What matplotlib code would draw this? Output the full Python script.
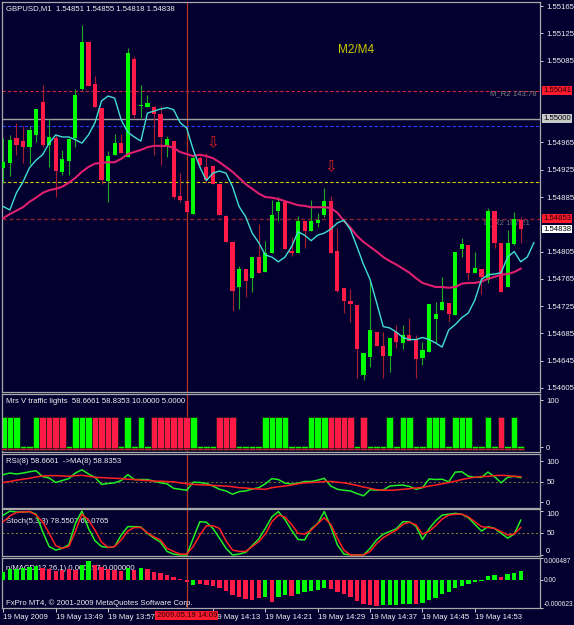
import numpy as np
import matplotlib.pyplot as plt
import matplotlib.transforms as mtransforms

plt.rcParams['font.family'] = ['Liberation Sans', 'DejaVu Sans']

# ---- GBPUSD M1 bars, 13:41 .. 15:00 ----
opens = [1.54928, 1.54935, 1.54972, 1.54967, 1.54958, 1.54976, 1.55024, 1.54961, 1.54972, 1.54922,
         1.54938, 1.54972, 1.55043, 1.55112, 1.55051, 1.55016, 1.54909, 1.54947, 1.54964, 1.54944,
         1.55087, 1.55019, 1.55017, 1.55017, 1.55007, 1.54960, 1.54967, 1.54887, 1.54879, 1.54860,
         1.54942, 1.54929, 1.54931, 1.54904, 1.54857, 1.54819, 1.54753, 1.54780, 1.54766, 1.54797,
         1.54775, 1.54803, 1.54865, 1.54878, 1.54806, 1.54803, 1.54850, 1.54835, 1.54847, 1.54859,
         1.54879, 1.54806, 1.54752, 1.54733, 1.54727, 1.54624, 1.54651, 1.54687, 1.54667, 1.54652,
         1.54687, 1.54671, 1.54683, 1.54677, 1.54649, 1.54658, 1.54706, 1.54720, 1.54730, 1.54712,
         1.54809, 1.54815, 1.54774, 1.54780, 1.54764, 1.54865, 1.54818, 1.54753, 1.54816, 1.54851]
highs = [1.54972, 1.54976, 1.54994, 1.54989, 1.54989, 1.55014, 1.55049, 1.55000, 1.54976, 1.54954,
         1.54972, 1.55043, 1.55137, 1.55112, 1.55062, 1.55016, 1.54953, 1.54978, 1.54978, 1.55103,
         1.55092, 1.55049, 1.55035, 1.55019, 1.55019, 1.54975, 1.54967, 1.54920, 1.54879, 1.54947,
         1.54945, 1.54950, 1.54931, 1.54904, 1.54859, 1.54819, 1.54784, 1.54780, 1.54797, 1.54846,
         1.54821, 1.54881, 1.54885, 1.54878, 1.54827, 1.54857, 1.54850, 1.54881, 1.54862, 1.54898,
         1.54887, 1.54840, 1.54752, 1.54750, 1.54727, 1.54657, 1.54762, 1.54687, 1.54687, 1.54679,
         1.54698, 1.54698, 1.54708, 1.54683, 1.54673, 1.54728, 1.54731, 1.54768, 1.54730, 1.54805,
         1.54825, 1.54815, 1.54805, 1.54780, 1.54869, 1.54865, 1.54818, 1.54837, 1.54863, 1.54855]
lows = [1.54906, 1.54916, 1.54947, 1.54935, 1.54934, 1.54966, 1.54958, 1.54929, 1.54885, 1.54917,
        1.54917, 1.54958, 1.55042, 1.55048, 1.55017, 1.54904, 1.54878, 1.54947, 1.54950, 1.54944,
        1.55001, 1.55001, 1.55017, 1.54947, 1.54932, 1.54944, 1.54882, 1.54878, 1.54863, 1.54860,
        1.54931, 1.54907, 1.54904, 1.54859, 1.54819, 1.54718, 1.54721, 1.54739, 1.54746, 1.54774,
        1.54775, 1.54803, 1.54850, 1.54809, 1.54799, 1.54803, 1.54810, 1.54835, 1.54841, 1.54856,
        1.54803, 1.54745, 1.54715, 1.54701, 1.54620, 1.54617, 1.54636, 1.54667, 1.54620, 1.54629,
        1.54664, 1.54662, 1.54674, 1.54619, 1.54638, 1.54658, 1.54671, 1.54720, 1.54701, 1.54712,
        1.54797, 1.54764, 1.54774, 1.54743, 1.54759, 1.54810, 1.54745, 1.54753, 1.54815, 1.54818]
closes = [1.54936, 1.54969, 1.54961, 1.54958, 1.54983, 1.55014, 1.54961, 1.54973, 1.54923, 1.54941,
          1.54970, 1.55035, 1.55112, 1.55048, 1.55017, 1.54910, 1.54945, 1.54964, 1.54950, 1.55096,
          1.55005, 1.55020, 1.55023, 1.55007, 1.54973, 1.54970, 1.54885, 1.54881, 1.54863, 1.54942,
          1.54932, 1.54910, 1.54904, 1.54859, 1.54819, 1.54747, 1.54780, 1.54762, 1.54797, 1.54774,
          1.54803, 1.54859, 1.54878, 1.54809, 1.54803, 1.54850, 1.54835, 1.54850, 1.54851, 1.54879,
          1.54803, 1.54747, 1.54733, 1.54728, 1.54662, 1.54657, 1.54690, 1.54667, 1.54652, 1.54679,
          1.54673, 1.54682, 1.54674, 1.54648, 1.54660, 1.54728, 1.54714, 1.54731, 1.54714, 1.54805,
          1.54816, 1.54774, 1.54781, 1.54768, 1.54865, 1.54818, 1.54745, 1.54818, 1.54853, 1.54838]

# moving averages as drawn (cyan one runs two bars past the last candle)
ma_fast = [1.54871, 1.54866, 1.54891, 1.54907, 1.54928, 1.54939, 1.54947, 1.54964, 1.54976, 1.54973,
           1.54973, 1.54969, 1.54964, 1.54976, 1.54994, 1.55026, 1.55033, 1.55030, 1.54998, 1.54980,
           1.54973, 1.54967, 1.55008, 1.55011, 1.55014, 1.55016, 1.55013, 1.54994, 1.54986, 1.54954,
           1.54929, 1.54909, 1.54920, 1.54923, 1.54920, 1.54900, 1.54871, 1.54856, 1.54832, 1.54818,
           1.54800, 1.54797, 1.54790, 1.54797, 1.54812, 1.54834, 1.54829, 1.54821, 1.54829, 1.54832,
           1.54838, 1.54847, 1.54851, 1.54837, 1.54812, 1.54786, 1.54764, 1.54730, 1.54695, 1.54693,
           1.54687, 1.54679, 1.54676, 1.54676, 1.54679, 1.54676, 1.54671, 1.54665, 1.54690, 1.54698,
           1.54708, 1.54715, 1.54734, 1.54764, 1.54771, 1.54772, 1.54774, 1.54797, 1.54805, 1.54790,
           1.54797, 1.54818]
ma_slow = [1.54854, 1.54860, 1.54865, 1.54870, 1.54878, 1.54884, 1.54891, 1.54895, 1.54897, 1.54900,
           1.54906, 1.54913, 1.54922, 1.54929, 1.54934, 1.54935, 1.54936, 1.54936, 1.54941, 1.54948,
           1.54951, 1.54954, 1.54958, 1.54960, 1.54960, 1.54960, 1.54957, 1.54951, 1.54948, 1.54945,
           1.54947, 1.54945, 1.54942, 1.54936, 1.54929, 1.54922, 1.54913, 1.54904, 1.54897, 1.54890,
           1.54885, 1.54884, 1.54882, 1.54879, 1.54876, 1.54873, 1.54872, 1.54870, 1.54870, 1.54870,
           1.54869, 1.54862, 1.54850, 1.54840, 1.54828, 1.54819, 1.54812, 1.54805, 1.54797, 1.54791,
           1.54786, 1.54780, 1.54774, 1.54766, 1.54759, 1.54756, 1.54753, 1.54753, 1.54752, 1.54753,
           1.54758, 1.54759, 1.54759, 1.54761, 1.54765, 1.54768, 1.54771, 1.54772, 1.54775, 1.54780]

levels = {'m_r2': 1.55041, 'round': 1.55000, 'blue': 1.54989, 'yellow': 1.54907, 'r2': 1.54853}
arrow_bars = [32, 50]
arrow_prices = [1.54964, 1.54930]
vline_bar = 28

price_ticks = [1.55165, 1.55125, 1.55085, 1.54965, 1.54925, 1.54885,
               1.54805, 1.54765, 1.54725, 1.54685, 1.54645, 1.54605]

# Mrs V traffic lights: G = tall green, R = tall red, s = short green
traffic = list("GGGssGRRRR" "sGGGRRRRsG" "sGsRRRRRRG" "sssRRRssss"
               "GGGGsssGGG" "RRRRsRsssG" "sGGssGGGsG" "GGssGsRsGs")

rsi = [66.7, 70.6, 68.3, 70.6, 73.8, 76.2, 61.9, 58.7, 47.6, 52.4,
       57.1, 70.6, 78.6, 68.3, 60.3, 42.9, 45.2, 46.8, 52.4, 66.7,
       54.8, 54.8, 54.8, 50.8, 46.8, 44.4, 33.3, 31.0, 28.6, 48.4,
       47.6, 45.2, 38.9, 31.0, 27.0, 19.0, 25.4, 27.0, 31.7, 34.9,
       44.4, 57.1, 54.8, 46.0, 43.7, 46.0, 50.0, 50.0, 53.2, 57.9,
       38.9, 31.0, 28.6, 27.0, 20.6, 15.1, 30.2, 28.6, 29.4, 38.9,
       40.5, 41.3, 38.1, 31.0, 34.9, 56.3, 54.8, 55.6, 49.2, 73.0,
       73.8, 62.7, 60.3, 60.3, 73.0, 61.9, 46.8, 60.3, 62.7, 59.5]
rsi_ma = [47.6, 50.0, 53.2, 55.6, 57.9, 61.1, 63.5, 64.3, 64.3, 63.5,
          62.7, 64.3, 65.1, 62.7, 60.3, 59.5, 58.7, 57.9, 57.1, 55.6,
          54.8, 53.2, 52.4, 50.8, 50.8, 50.0, 49.2, 46.8, 44.4, 42.9,
          42.1, 41.3, 40.5, 39.7, 38.9, 37.3, 34.9, 34.1, 32.5, 31.7,
          31.0, 34.9, 37.3, 38.9, 41.3, 44.4, 46.8, 47.6, 48.4, 50.0,
          50.0, 48.4, 46.8, 43.7, 40.5, 36.5, 33.3, 30.2, 28.6, 28.6,
          29.4, 31.0, 32.5, 34.1, 35.7, 38.9, 41.3, 44.4, 47.6, 50.8,
          54.8, 57.9, 60.3, 61.9, 62.7, 64.3, 65.1, 64.3, 62.7, 61.9]

stoch_k = [90, 99, 97, 97, 98, 92, 53, 19, 11, 15,
           23, 71, 99, 60, 32, 19, 17, 19, 45, 64,
           64, 63, 49, 38, 29, 8, 2, 0, 0, 38,
           75, 74, 60, 38, 15, 0, 2, 6, 21, 36,
           60, 86, 98, 80, 56, 35, 34, 59, 71, 98,
           64, 23, 2, 0, 0, 0, 15, 34, 47, 53,
           59, 75, 75, 65, 35, 59, 77, 90, 92, 94,
           92, 84, 69, 54, 64, 60, 49, 38, 47, 78.6]
stoch_d = [75, 88, 96, 97, 98, 90, 75, 49, 21, 15,
           19, 53, 92, 79, 56, 29, 17, 19, 34, 54,
           62, 62, 50, 41, 34, 15, 8, 2, 2, 19,
           45, 66, 66, 60, 32, 11, 8, 8, 19, 30,
           47, 75, 90, 86, 69, 49, 47, 56, 71, 84,
           69, 38, 11, 0, 0, 0, 8, 26, 39, 48,
           56, 69, 74, 68, 47, 53, 66, 81, 90, 92,
           92, 86, 75, 64, 62, 60, 53, 45, 47, 62]

macd = [0.000185, 0.000244, 0.000244, 0.000274, 0.000289, 0.000311, 0.000259, 0.000244, 0.000207, 0.000215,
        0.000237, 0.000229, 0.000333, 0.000422, 0.000333, 0.000281, 0.000244, 0.000222, 0.000200, 0.000259,
        0.000222, 0.000259, 0.000237, 0.000185, 0.000148, 0.000111, 0.000074, 0.000022, -0.000037, -0.000111,
        -0.000096, -0.000111, -0.000126, -0.000185, -0.000244, -0.000333, -0.000370, -0.000422, -0.000444, -0.000392,
        -0.000370, -0.000481, -0.000370, -0.000333, -0.000348, -0.000311, -0.000274, -0.000244, -0.000222, -0.000185,
        -0.000200, -0.000274, -0.000318, -0.000370, -0.000466, -0.000533, -0.000548, -0.000570, -0.000555, -0.000555,
        -0.000555, -0.000540, -0.000540, -0.000540, -0.000503, -0.000444, -0.000392, -0.000318, -0.000274, -0.000185,
        -0.000126, -0.000089, -0.000052, -0.000022, 0.000096, 0.000111, 0.000074, 0.000126, 0.000163, 0.000197]
macd_dir = list("GGGGGGRRRR" "RRGGRRRRRG" "RGRRRRRRRG" "RRRRRRRRRR"
                "GRGGRGGGGG" "RRRRRRRRGG" "GGGRGGGGGG" "GGGGGGRGGG")

time_ticks = [0, 8, 16, 32, 40, 48, 56, 64, 72]
time_labels = ['19 May 2009', '19 May 13:49', '19 May 13:57', '19 May 14:13', '19 May 14:21',
               '19 May 14:29', '19 May 14:37', '19 May 14:45', '19 May 14:53']

# ---- colours ----
BG = '#030030'
FG = '#f0f0f0'
BORDER = '#a8a8a8'
BULL = '#00ff00'
BEAR = '#ff1a48'
BULL_WICK = '#22a822'
BEAR_WICK = '#a81c30'
VLINE = '#b4321e'
FS = 5.6

o = np.array(opens); h = np.array(highs); l = np.array(lows); c = np.array(closes)
x = np.arange(len(o))

fig = plt.figure(figsize=(5.74, 6.25), dpi=100, facecolor=BG)


def panel(top, bottom):
    ax = fig.add_axes([2 / 574, 1 - bottom / 625, 538 / 574, (bottom - top) / 625])
    ax.set_facecolor(BG)
    for s in ax.spines.values():
        s.set_color(BORDER)
        s.set_linewidth(0.9)
    ax.set_xlim(-0.2, 81.94)
    ax.yaxis.tick_right()
    ax.tick_params(axis='y', colors=FG, labelsize=FS, length=2.5, width=0.6, pad=2)
    ax.tick_params(axis='x', bottom=False, labelbottom=False)
    ax.axvline(vline_bar, color=VLINE, lw=0.9, zorder=1)
    return ax


# ---- main price window ----
ax = panel(2, 392)
ax.set_ylim(1.545991, 1.551709)
ax.set_yticks(price_ticks)
ax.set_yticklabels([f'{p:.5f}' for p in price_ticks])

ax.axhline(levels['m_r2'], color='#d02838', lw=0.8, ls=(0, (3, 2)), zorder=1)
ax.axhline(levels['round'], color='#a0a0a0', lw=1.0, zorder=1)
ax.axhline(levels['blue'], color='#2040ff', lw=0.8, ls=(0, (3, 2)), zorder=1)
ax.axhline(levels['yellow'], color='#d0c800', lw=0.8, ls=(0, (3, 2)), zorder=1)
ax.axhline(levels['r2'], color='#8a2030', lw=1.0, ls=(0, (3, 2)), zorder=1)

ax.text(74.3, levels['m_r2'], 'M_R2 143.78', color='#808080', fontsize=FS, va='top', zorder=1)
ax.text(73.4, levels['r2'], 'D_R2 107.21', color='#707070', fontsize=FS, va='top', zorder=1)

up = c >= o
body_lo = np.minimum(o, c)
body_h = np.maximum(np.abs(c - o), 0.000012)
ax.vlines(x[up], l[up], h[up], color=BULL_WICK, lw=0.8, zorder=3)
ax.vlines(x[~up], l[~up], h[~up], color=BEAR_WICK, lw=0.8, zorder=3)
ax.bar(x[up], body_h[up], 0.64, bottom=body_lo[up], color=BULL, lw=0, zorder=4)
ax.bar(x[~up], body_h[~up], 0.64, bottom=body_lo[~up], color=BEAR, lw=0, zorder=4)

ax.plot(np.arange(len(ma_slow)), ma_slow, color='#e0206e', lw=1.5, zorder=5)
ax.plot(np.arange(len(ma_fast)), ma_fast, color='#40e0d0', lw=1.0, zorder=6)

for b, p in zip(arrow_bars, arrow_prices):
    ax.text(b, p, '\u21e9', color='#d82020', fontsize=11, ha='center', va='center',
            family='DejaVu Sans', zorder=7)

ax.text(53.8, 1.55101, 'M2/M4', color='#c8c800', fontsize=8.5, ha='center', va='center')
ax.text(0.008, 0.993, f'GBPUSD,M1  {opens[-1]:.5f} {highs[-1]:.5f} {lows[-1]:.5f} {closes[-1]:.5f}',
        transform=ax.transAxes, color=FG, fontsize=FS, va='top')

# price tags on the right scale
ytrans = mtransforms.blended_transform_factory(ax.transAxes, ax.transData)
tags = [(levels['m_r2'], '#ff1a30', '#200000'), (levels['round'], '#c8c8c8', '#000000'),
        (levels['r2'], '#ff1a30', '#200000'), (closes[-1], '#ffffff', '#000000')]
for p, fc, tc in tags:
    ax.text(1.006, p, f'{p:.5f}', transform=ytrans, color=tc, fontsize=FS, va='center',
            ha='left', clip_on=False, zorder=10,
            bbox=dict(boxstyle='square,pad=0.12', fc=fc, ec='none'))

# ---- traffic lights ----
at = panel(394, 452)
at.set_ylim(-10.6, 112.8)
at.set_yticks([0, 100])
t_h = np.array([63.0 if s in 'GR' else 2.0 for s in traffic])
t_col = [BEAR if s == 'R' else BULL for s in traffic]
at.bar(x, t_h + 6.4, 1.0, bottom=-6.4, color=t_col, edgecolor='#1a1a1a', lw=0.5, zorder=2)
at.bar(x, np.full(len(x), 4.0), 1.0, bottom=-6.4, color='#d01838', edgecolor='#1a1a1a', lw=0.5, zorder=3)
at.text(0.008, 0.93, 'Mrs V traffic lights  58.6661 58.8353 10.0000 5.0000',
        transform=at.transAxes, color=FG, fontsize=FS, va='top', zorder=5)

# ---- RSI ----
ar = panel(454, 508)
ar.set_ylim(-14.6, 117.1)
ar.set_yticks([0, 50, 100])
ar.axhline(50, color='#6a6a3a', lw=0.8, ls=(0, (2, 2)), zorder=1)
ar.plot(x, rsi, color='#22ee22', lw=1.1, zorder=3)
ar.plot(x, rsi_ma, color='#ff2020', lw=1.1, zorder=4)
ar.text(0.008, 0.93, 'RSI(8) 58.6661  ->MA(8) 58.8353', transform=ar.transAxes,
        color=FG, fontsize=FS, va='top', zorder=5)

# ---- Stochastic ----
ast = panel(509, 556)
ast.set_ylim(-2.3, 103.8)
ast.set_yticks([0, 50, 100])
ast.axhline(50, color='#7a7a30', lw=0.8, ls=(0, (2, 2)), zorder=1)
ast.plot(x, stoch_k, color='#22ee22', lw=1.1, zorder=3)
ast.plot(x, stoch_d, color='#ff2020', lw=1.1, zorder=4)
ast.text(0.008, 0.80, 'Stoch(5,3,3) 78.5507 62.0765', transform=ast.transAxes,
         color=FG, fontsize=FS, va='top', zorder=2)
lab = ast.get_yticklabels()
lab[0].set_va('bottom'); lab[2].set_va('top')

# ---- MACD ----
am = panel(558, 608)
am.set_ylim(-0.000623, 0.000487)
am.set_yticks([-0.000623, 0, 0.000487])
am.set_yticklabels(['-0.000623', '0.00', '0.000487'])
am.tick_params(axis='y', labelsize=4.8, length=2, pad=0.8)
lab = am.get_yticklabels()
lab[0].set_va('bottom'); lab[2].set_va('top')
m_col = [BULL if d == 'G' else BEAR for d in macd_dir]
am.bar(x, macd, 0.66, color=m_col, lw=0, zorder=3)
am.text(0.008, 0.86, 'n/MACD(12,26,1) 0.000197 0.000000', transform=am.transAxes,
        color=FG, fontsize=FS, va='top', zorder=2)
am.text(0.008, 0.10, 'FxPro MT4, \u00a9 2001-2009 MetaQuotes Software Corp.', transform=am.transAxes,
        color=FG, fontsize=FS, va='center', zorder=6)

am.set_xticks(time_ticks)
am.set_xticklabels(time_labels, ha='left')
am.tick_params(axis='x', bottom=True, labelbottom=True, colors=FG, labelsize=FS,
               length=3, width=0.6, pad=1.5)
xtrans = mtransforms.blended_transform_factory(am.transData, am.transAxes)
am.text(vline_bar, -0.15, '2009.05.19 14:09', transform=xtrans, color='#200000', fontsize=FS,
        ha='center', va='center', clip_on=False, zorder=10,
        bbox=dict(boxstyle='square,pad=0.15', fc='#ff1a30', ec='none'))

fig.savefig('out.png', dpi=100, facecolor=BG)
